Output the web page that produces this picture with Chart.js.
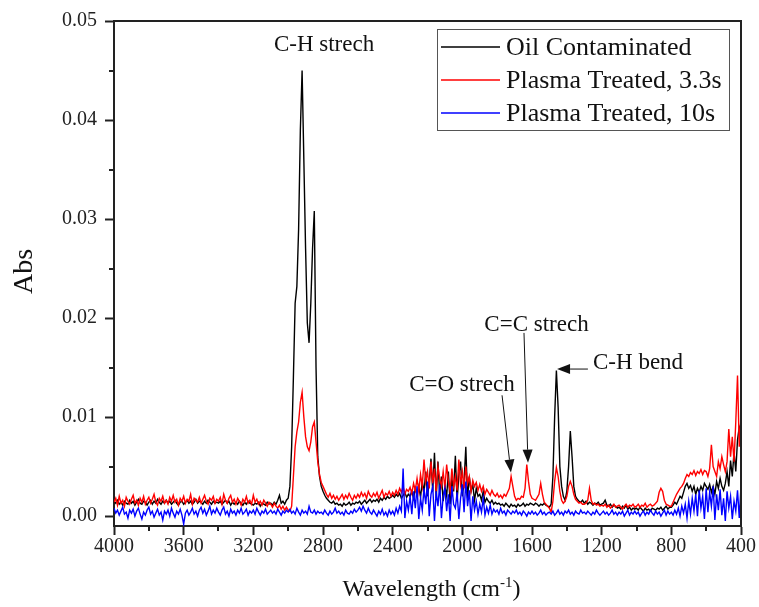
<!DOCTYPE html>
<html><head><meta charset="utf-8">
<script src="https://cdn.jsdelivr.net/npm/chart.js@4"></script>
<style>html,body{margin:0;padding:0;background:#fff}</style>
</head><body>
<canvas id="c" width="759" height="607"></canvas>
<script>
// Wavenumber grid (cm-1), 4000 -> 400 in steps of 10
const wavenumbers = Array.from({length: 361}, (_, i) => 4000 - 10 * i);

const seriesNames = ['Oil Contaminated', 'Plasma Treated, 3.3s', 'Plasma Treated, 10s'];
const seriesColors = ['#000000', '#ff0000', '#0000ff'];

const oilContaminated = [
.0015,.0013,.0016,.0012,.0014,.0011,.0015,.0013,.0012,.0016,
.0013,.0015,.0011,.0014,.0017,.0013,.0012,.0015,.0014,.0011,
.0014,.0016,.0012,.0015,.0013,.0017,.0014,.0012,.0015,.0013,
.0016,.0013,.0015,.0012,.0014,.0016,.0013,.0011,.0014,.0015,
.0012,.0014,.0016,.0013,.0015,.0012,.0014,.0017,.0013,.0015,
.0014,.0012,.0015,.0013,.0016,.0014,.0012,.0015,.0013,.0014,
.0013,.0015,.0012,.0014,.0016,.0013,.0015,.0011,.0014,.0012,
.0014,.0012,.0015,.0013,.0011,.0014,.0012,.0015,.0013,.0012,
.0011,.0013,.0012,.0014,.0010,.0013,.0012,.0011,.0014,.0012,
.0013,.0011,.0014,.0012,.0016,.0021,.0013,.0015,.0012,.0016,
.0018,.0030,.0070,.0140,.0215,.0232,.0290,.0390,.0450,.0360,
.0270,.0195,.0175,.0215,.0270,.0308,.0150,.0060,.0040,.0030,
.0025,.0021,.0018,.0016,.0014,.0013,.0015,.0012,.0013,.0011,
.0012,.0010,.0013,.0011,.0012,.0014,.0011,.0013,.0012,.0014,
.0013,.0015,.0012,.0014,.0016,.0013,.0015,.0017,.0014,.0016,
.0015,.0017,.0014,.0018,.0016,.0019,.0017,.0020,.0018,.0019,
.0021,.0019,.0022,.0020,.0023,.0018,.0021,.0024,.0019,.0022,
.0020,.0025,.0018,.0028,.0022,.0030,.0019,.0035,.0024,.0045,
.0020,.0035,.0058,.0025,.0064,.0018,.0055,.0022,.0040,.0015,
.0030,.0020,.0045,.0012,.0038,.0025,.0061,.0015,.0042,.0055,
.0020,.0035,.0070,.0018,.0040,.0025,.0032,.0016,.0028,.0020,
.0022,.0016,.0025,.0014,.0018,.0015,.0013,.0016,.0012,.0014,
.0012,.0013,.0011,.0012,.0010,.0013,.0011,.0009,.0012,.0010,
.0011,.0009,.0012,.0010,.0011,.0013,.0010,.0012,.0011,.0013,
.0012,.0011,.0013,.0012,.0010,.0012,.0011,.0013,.0011,.0010,
.0009,.0012,.0040,.0100,.0147,.0110,.0050,.0030,.0020,.0016,
.0025,.0050,.0086,.0060,.0030,.0020,.0017,.0015,.0014,.0016,
.0013,.0015,.0012,.0014,.0013,.0011,.0013,.0012,.0014,.0011,
.0012,.0013,.0016,.0011,.0010,.0012,.0009,.0011,.0010,.0008,
.0009,.0007,.0010,.0008,.0011,.0007,.0009,.0006,.0008,.0007,
.0008,.0006,.0009,.0007,.0005,.0008,.0006,.0007,.0005,.0008,
.0007,.0006,.0008,.0007,.0009,.0006,.0008,.0010,.0007,.0009,
.0009,.0011,.0014,.0012,.0016,.0020,.0018,.0024,.0030,.0033,
.0028,.0031,.0025,.0030,.0022,.0028,.0024,.0030,.0026,.0033,
.0030,.0027,.0032,.0024,.0030,.0022,.0035,.0028,.0038,.0030,
.0026,.0033,.0045,.0030,.0056,.0040,.0065,.0045,.0077,.0090,
.0085];

const plasma33s = [
.0014,.0018,.0011,.0020,.0013,.0016,.0010,.0019,.0015,.0012,
.0017,.0021,.0013,.0016,.0011,.0018,.0014,.0020,.0012,.0016,
.0019,.0013,.0017,.0022,.0014,.0011,.0018,.0015,.0020,.0013,
.0016,.0012,.0019,.0015,.0021,.0014,.0017,.0011,.0018,.0015,
.0020,.0013,.0017,.0015,.0022,.0012,.0018,.0016,.0014,.0019,
.0013,.0017,.0021,.0015,.0012,.0018,.0016,.0020,.0013,.0017,
.0015,.0019,.0012,.0022,.0016,.0013,.0018,.0021,.0014,.0017,
.0012,.0018,.0015,.0011,.0017,.0014,.0020,.0013,.0016,.0012,
.0021,.0014,.0017,.0012,.0015,.0011,.0016,.0013,.0010,.0014,
.0012,.0009,.0013,.0010,.0008,.0011,.0007,.0010,.0006,.0009,
.0006,.0005,.0010,.0040,.0070,.0085,.0095,.0115,.0125,.0100,
.0080,.0070,.0066,.0075,.0090,.0095,.0075,.0055,.0042,.0034,
.0030,.0026,.0022,.0019,.0023,.0018,.0021,.0017,.0020,.0016,
.0019,.0022,.0017,.0021,.0018,.0023,.0019,.0016,.0021,.0018,
.0022,.0019,.0024,.0020,.0023,.0018,.0025,.0021,.0019,.0023,
.0020,.0024,.0018,.0022,.0026,.0019,.0023,.0021,.0025,.0020,
.0024,.0021,.0026,.0022,.0028,.0024,.0030,.0022,.0027,.0025,
.0029,.0023,.0033,.0026,.0038,.0025,.0042,.0030,.0057,.0035,
.0045,.0028,.0055,.0033,.0048,.0025,.0050,.0038,.0030,.0045,
.0028,.0052,.0035,.0025,.0048,.0030,.0040,.0026,.0057,.0032,
.0045,.0028,.0050,.0033,.0040,.0025,.0036,.0030,.0034,.0026,
.0032,.0025,.0030,.0022,.0027,.0024,.0021,.0026,.0022,.0020,
.0023,.0019,.0021,.0018,.0022,.0020,.0024,.0028,.0040,.0030,
.0020,.0016,.0018,.0017,.0020,.0019,.0028,.0052,.0035,.0022,
.0018,.0017,.0016,.0019,.0022,.0033,.0022,.0014,.0012,.0010,
.0008,.0004,.0015,.0035,.0049,.0040,.0025,.0016,.0013,.0015,
.0020,.0030,.0035,.0030,.0022,.0017,.0015,.0013,.0014,.0012,
.0012,.0013,.0016,.0028,.0016,.0012,.0013,.0011,.0012,.0010,
.0011,.0010,.0012,.0009,.0011,.0008,.0010,.0012,.0009,.0010,
.0011,.0009,.0007,.0010,.0012,.0009,.0011,.0010,.0012,.0009,
.0010,.0012,.0009,.0011,.0010,.0013,.0009,.0011,.0012,.0010,
.0011,.0013,.0015,.0024,.0028,.0025,.0016,.0012,.0011,.0010,
.0010,.0014,.0018,.0022,.0025,.0028,.0030,.0033,.0038,.0042,
.0040,.0044,.0042,.0046,.0041,.0045,.0043,.0047,.0042,.0046,
.0045,.0040,.0048,.0072,.0050,.0045,.0040,.0055,.0048,.0060,
.0052,.0045,.0055,.0088,.0060,.0080,.0055,.0095,.0142,.0070,
.0100];

const plasma10s = [
.0008,.0003,.0006,.0001,.0005,.0009,.0002,.0004,-.0002,.0006,
.0003,.0007,.0000,.0005,.0008,.0002,-.0003,.0004,.0001,.0006,
.0009,.0002,.0005,-.0001,.0003,.0007,.0001,.0004,-.0004,.0005,
.0002,.0006,.0000,.0008,.0003,-.0001,.0005,.0002,.0007,.0001,
-.0008,.0003,.0006,.0001,.0004,.0008,.0002,.0005,.0000,.0006,
.0009,.0003,.0007,.0001,.0005,.0010,.0002,.0006,.0003,.0008,
.0004,.0001,.0006,.0009,.0002,.0005,.0000,.0007,.0003,.0005,
.0001,.0006,.0003,.0008,.0002,.0004,.0007,.0001,.0005,.0003,
.0006,.0002,.0008,.0004,.0001,.0005,.0003,.0007,.0002,.0004,
.0006,.0003,.0005,.0002,.0007,.0004,.0001,.0005,.0003,.0006,
.0004,.0007,.0003,.0005,.0002,.0008,.0004,.0001,.0006,.0003,
.0005,.0002,.0010,.0004,.0003,.0006,.0002,.0005,.0003,.0004,
.0002,.0006,.0003,.0001,.0005,.0002,.0004,.0008,.0003,.0005,
.0002,.0004,.0001,.0006,.0003,.0002,.0005,.0003,.0007,.0004,
.0006,.0009,.0005,.0010,.0006,.0003,.0008,.0004,.0002,.0006,
.0003,.0000,.0005,.0002,.0007,.0001,.0004,.0000,.0006,.0002,
.0005,.0001,.0008,.0003,.0010,.0005,.0048,-.0002,.0015,.0006,
.0020,.0002,.0025,.0008,.0030,-.0003,.0018,.0006,.0028,.0012,
.0035,.0000,.0022,.0030,-.0005,.0025,.0010,.0032,-.0002,.0020,
.0028,.0005,.0022,-.0005,.0030,.0012,.0008,.0024,-.0003,.0018,
.0032,.0004,.0035,.0010,.0026,-.0005,.0020,.0006,.0015,.0002,
.0012,.0004,.0018,.0001,.0009,.0003,.0011,.0002,.0007,.0004,
.0006,.0002,.0008,.0003,.0005,.0001,.0006,.0004,.0002,.0005,
.0003,.0006,.0002,.0004,.0001,.0005,.0003,.0000,.0004,.0002,
.0005,.0002,.0004,.0001,.0003,.0006,.0002,.0004,.0001,.0003,
.0004,.0002,.0005,.0001,.0003,.0006,.0002,.0004,.0001,.0005,
.0003,.0006,.0002,.0004,.0001,.0005,.0003,.0002,.0006,.0003,
.0004,.0002,.0005,.0003,.0001,.0004,.0002,.0006,.0003,.0001,
.0003,.0005,.0002,.0004,.0001,.0003,.0006,.0002,.0004,.0001,
.0004,.0002,.0005,.0000,.0003,.0006,.0001,.0004,.0002,.0005,
.0002,.0004,.0000,.0003,.0005,.0001,.0004,.0002,.0006,.0003,
.0001,.0005,.0002,.0004,.0000,.0003,.0006,.0001,.0005,.0002,
.0004,.0001,.0006,.0002,.0008,.0000,.0010,.0003,.0012,-.0002,
.0015,.0002,.0018,.0005,.0022,.0000,.0026,.0008,.0020,-.0003,
.0028,.0004,.0024,.0010,.0030,-.0004,.0022,.0006,.0027,.0001,
.0018,-.0005,.0025,.0008,.0020,-.0003,.0015,.0005,.0026,-.0002,
.0030];

const xMajorTicks = [4000, 3600, 3200, 2800, 2400, 2000, 1600, 1200, 800, 400];
const xMinorTicks = [3800, 3400, 3000, 2600, 2200, 1800, 1400, 1000, 600];
const yMajorTicks = [0, 0.01, 0.02, 0.03, 0.04, 0.05];
const yMinorTicks = [0.005, 0.015, 0.025, 0.035, 0.045];

// Annotations anchored in data coordinates (cm-1, Abs)
const peakLabels = [
  {text: 'C-H strech', x: 2794, y: 0.0476},
  {text: 'C=O strech', x: 2002, y: 0.0132},
  {text: 'C=C strech', x: 1574, y: 0.0193},
  {text: 'C-H bend',  x: 991,  y: 0.01545}
];
const peakArrows = [
  {from: [1772, 0.0122], to: [1721, 0.0044]},
  {from: [1646, 0.0185], to: [1623, 0.0054]},
  {from: [1279, 0.01485], to: [1456, 0.01485]}
];

const SERIF = "'Liberation Serif', 'Times New Roman', serif";
const INK = '#222';

const seriesValues = [oilContaminated, plasma33s, plasma10s];
const datasets = seriesValues.map((vals, k) => ({
  label: seriesNames[k],
  data: wavenumbers.map((w, i) => ({x: w, y: vals[i]})),
  borderColor: seriesColors[k],
  borderWidth: 1.4,
  pointRadius: 0,
  tension: 0,
  fill: false,
  order: 3 - k
}));

const decorations = {
  id: 'decorations',
  afterDraw(chart) {
    const ctx = chart.ctx, a = chart.chartArea;
    const xs = chart.scales.x, ys = chart.scales.y;
    ctx.save();
    // frame top & right
    ctx.strokeStyle = INK; ctx.lineWidth = 2;
    ctx.beginPath();
    ctx.moveTo(a.left, a.top); ctx.lineTo(a.right, a.top); ctx.lineTo(a.right, a.bottom);
    ctx.stroke();
    // minor ticks
    ctx.lineWidth = 2;
    ctx.beginPath();
    xMinorTicks.forEach(v => { const p = Math.round(xs.getPixelForValue(v)); ctx.moveTo(p, a.bottom); ctx.lineTo(p, a.bottom + 5); });
    yMinorTicks.forEach(v => { const p = Math.round(ys.getPixelForValue(v)); ctx.moveTo(a.left, p); ctx.lineTo(a.left - 5, p); });
    ctx.stroke();

    // legend
    const lx = 437.5, ly = 29.5, lw = 292, lh = 101;
    ctx.fillStyle = '#fff';
    ctx.fillRect(lx, ly, lw, lh);
    ctx.strokeStyle = '#555'; ctx.lineWidth = 1;
    ctx.strokeRect(lx, ly, lw, lh);
    ctx.font = '26px ' + SERIF;
    ctx.textBaseline = 'middle'; ctx.textAlign = 'left';
    chart.data.datasets.forEach((ds, k) => {
      const yy = 47 + k * 33;
      ctx.strokeStyle = ds.borderColor; ctx.lineWidth = 1.3;
      ctx.beginPath(); ctx.moveTo(441, yy); ctx.lineTo(500, yy); ctx.stroke();
      ctx.fillStyle = '#111';
      ctx.fillText(ds.label, 506, yy + 1);
    });

    // peak labels
    ctx.font = '23px ' + SERIF;
    ctx.textAlign = 'center'; ctx.textBaseline = 'middle'; ctx.fillStyle = '#111';
    peakLabels.forEach(l => ctx.fillText(l.text, xs.getPixelForValue(l.x), ys.getPixelForValue(l.y)));

    // arrows
    ctx.strokeStyle = '#111'; ctx.fillStyle = '#111'; ctx.lineWidth = 1;
    peakArrows.forEach(ar => {
      const x1 = xs.getPixelForValue(ar.from[0]), y1 = ys.getPixelForValue(ar.from[1]);
      const x2 = xs.getPixelForValue(ar.to[0]), y2 = ys.getPixelForValue(ar.to[1]);
      const ang = Math.atan2(y2 - y1, x2 - x1), L = 13, W = 5;
      const bx = x2 - L * Math.cos(ang), by = y2 - L * Math.sin(ang);
      ctx.beginPath(); ctx.moveTo(x1, y1); ctx.lineTo(bx, by); ctx.stroke();
      ctx.beginPath();
      ctx.moveTo(x2, y2);
      ctx.lineTo(bx + W * Math.sin(ang), by - W * Math.cos(ang));
      ctx.lineTo(bx - W * Math.sin(ang), by + W * Math.cos(ang));
      ctx.closePath(); ctx.fill();
    });

    // axis titles
    ctx.fillStyle = '#111';
    ctx.save();
    ctx.translate(25, (a.top + a.bottom) / 2 - 2);
    ctx.rotate(-Math.PI / 2);
    ctx.font = '28px ' + SERIF;
    ctx.textAlign = 'center'; ctx.textBaseline = 'middle';
    ctx.fillText('Abs', 0, 0);
    ctx.restore();

    const main = '24px ' + SERIF, sup = '15px ' + SERIF;
    ctx.textAlign = 'left'; ctx.textBaseline = 'alphabetic';
    ctx.font = main; const w1 = ctx.measureText('Wavelength (cm').width;
    ctx.font = sup; const w2 = ctx.measureText('-1').width;
    ctx.font = main; const w3 = ctx.measureText(')').width;
    let tx = (a.left + a.right) / 2 + 4 - (w1 + w2 + w3) / 2;
    const ty = 596;
    ctx.font = main; ctx.fillText('Wavelength (cm', tx, ty); tx += w1;
    ctx.font = sup; ctx.fillText('-1', tx, ty - 9); tx += w2;
    ctx.font = main; ctx.fillText(')', tx, ty);
    ctx.restore();
  }
};

new Chart(document.getElementById('c'), {
  type: 'line',
  data: {datasets},
  options: {
    responsive: false,
    animation: false,
    layout: {padding: {top: 21, right: 18, left: 0, bottom: 0}},
    plugins: {legend: {display: false}, tooltip: {enabled: false}},
    scales: {
      x: {
        type: 'linear', reverse: true, min: 400, max: 4000,
        afterBuildTicks: s => { s.ticks = xMajorTicks.map(v => ({value: v})); },
        afterFit: s => { s.height = 81; },
        ticks: {callback: v => String(v), font: {family: SERIF, size: 20}, color: INK, padding: 0, maxRotation: 0, autoSkip: false},
        grid: {drawOnChartArea: false, tickLength: 9, tickWidth: 2, tickColor: INK},
        border: {color: INK, width: 2}
      },
      y: {
        min: -0.001, max: 0.05,
        afterBuildTicks: s => { s.ticks = yMajorTicks.map(v => ({value: v})); },
        afterFit: s => { s.width = 114; },
        ticks: {callback: v => v.toFixed(2), font: {family: SERIF, size: 20}, color: INK, padding: 8},
        grid: {drawOnChartArea: false, tickLength: 9, tickWidth: 2, tickColor: INK},
        border: {color: INK, width: 2}
      }
    }
  },
  plugins: [decorations]
});
</script>
</body></html>
